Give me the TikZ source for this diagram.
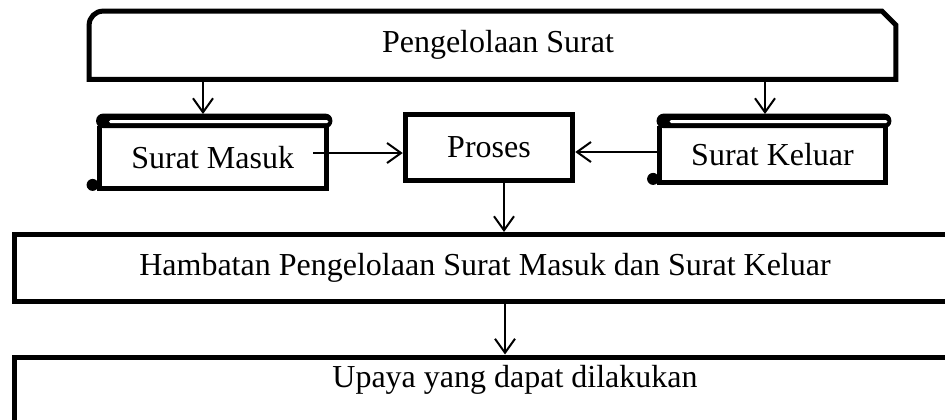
\documentclass[tikz,border=0pt]{standalone}
\usepackage{fontspec}
\setmainfont{Liberation Serif}
\usetikzlibrary{arrows.meta,calc}

\tikzset{
  boxline/.style={line width=2.5pt, line join=miter},
  txt/.style={font=\fontsize{16}{19}\selectfont, inner sep=0pt},
  plainbox/.style={txt, draw, boxline, rectangle},
  scrollbody/.style={txt, rectangle},
  arr/.style={line width=1pt, -{Straight Barb[length=7pt,width=10pt,line width=1pt]}},
}

\begin{document}
\begin{tikzpicture}[x=0.5pt,y=-0.5pt]
\useasboundingbox (0,0) rectangle (945,419);
\clip (0,0) rectangle (945,419);

% heading box: rounded top-left corner, cut top-right corner
\node[txt, minimum width=403pt, minimum height=33.75pt] (top) at (492.5,45.25) {};
\node[txt] (toptext) at (498,45) {Pengelolaan Surat};
\draw[boxline] (top.south west) {[rounded corners=7pt] -- (top.north west)}
  -- ($(top.north east)+(-14,0)$) -- ($(top.north east)+(0,14)$)
  -- (top.south east) -- cycle;

% incoming and outgoing mail (scroll shapes)
\node[scrollbody, minimum width=113.25pt, minimum height=31.25pt] (masuk) at (212.75,157.25) {Surat Masuk};
\node[scrollbody, minimum width=112.5pt, minimum height=28.25pt] (keluar) at (772.5,154.25) {Surat Keluar};

\foreach \s in {masuk,keluar}{
  % body
  \draw[boxline] (\s.north west) -- (\s.south west) -- (\s.south east) -- (\s.north east);
  % rolled top edge
  \fill[rounded corners=3.5pt] ($(\s.north west)+(-3,-12)$) rectangle ($(\s.north east)+(6,2.5)$);
  \fill[white, rounded corners=0.75pt] ($(\s.north west)+(10,-5.5)$) rectangle ($(\s.north east)+(2,-2.5)$);
  % curl at the lower left
  \fill ($(\s.south west)+(-6.5,-4)$) circle[radius=6];
}

% processing box
\node[plainbox, minimum width=83.75pt, minimum height=33pt] (proses) at (489,147.5) {Proses};

% obstacles box
\node[plainbox, minimum width=470.5pt, minimum height=33.5pt] (hambatan) at (485,268) {Hambatan Pengelolaan Surat Masuk dan Surat Keluar};

% efforts box
\node[draw, boxline, rectangle, minimum width=500.5pt, minimum height=60pt, anchor=north, inner sep=0pt] (upaya) at (515,354.5) {};
\node[txt] (upayatext) at (515,380) {Upaya yang dapat dilakukan};

% connectors
\coordinate (m-in) at (203,114);
\coordinate (k-in) at (765,114);
\draw[arr] (top.south -| m-in) -- (m-in);
\draw[arr] (top.south -| k-in) -- (k-in);

\coordinate (m-out) at ($(masuk.east)+(-13,-4.25)$);
\coordinate (k-out) at ($(keluar.west)+(0,-2.25)$);
\draw[arr] (m-out) -- (proses.west |- m-out);
\draw[arr] (k-out) -- (proses.east |- k-out);

\coordinate (p-out) at ($(proses.south)+(15,0)$);
\draw[arr] (p-out) -- (hambatan.north -| p-out);
\coordinate (h-out) at ($(hambatan.south)+(20,0)$);
\draw[arr] (h-out) -- (upaya.north -| h-out);
\end{tikzpicture}
\end{document}
